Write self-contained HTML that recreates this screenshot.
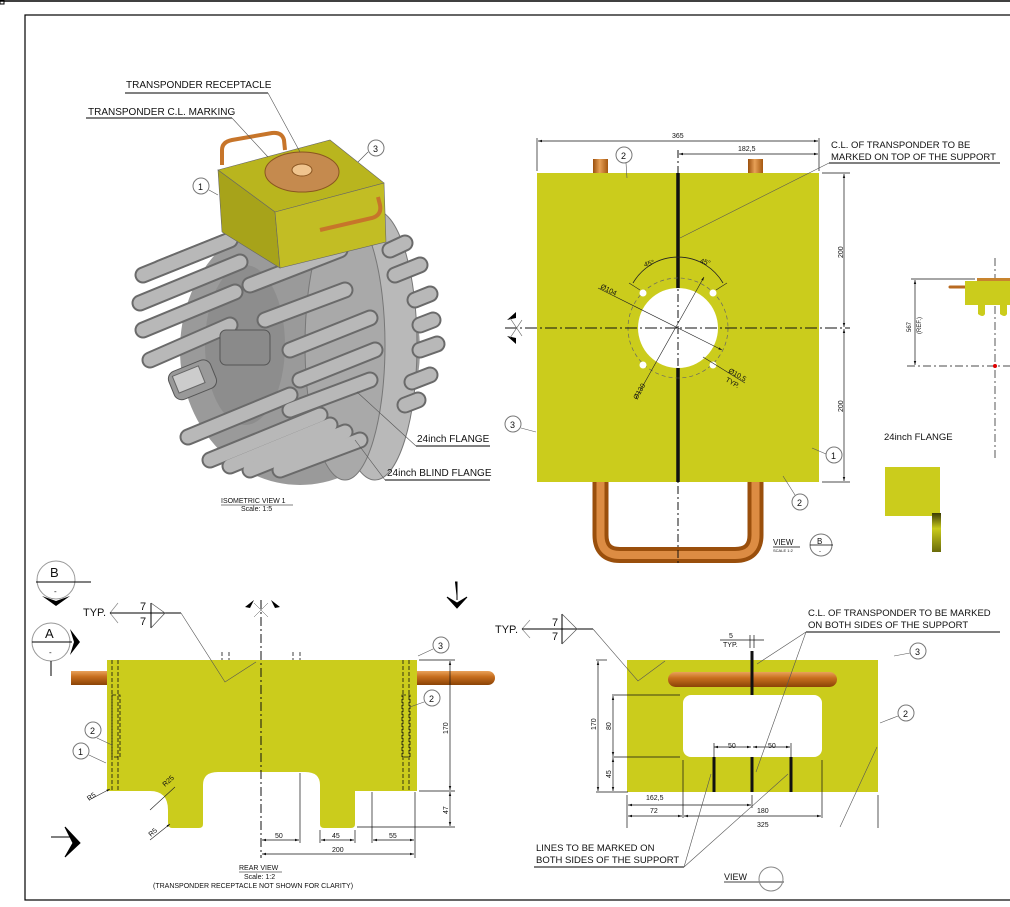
<!DOCTYPE html>
<html><head><meta charset="utf-8"><style>
html,body{margin:0;padding:0;background:#fff;}
svg{display:block;}
text{font-family:"Liberation Sans",sans-serif;fill:#111;}
</style></head><body>
<svg width="1010" height="907" viewBox="0 0 1010 907" xmlns="http://www.w3.org/2000/svg">
<defs>
<linearGradient id="cu" x1="0" y1="0" x2="0" y2="1"><stop offset="0" stop-color="#e9a25a"/><stop offset="0.4" stop-color="#c86f1e"/><stop offset="1" stop-color="#8a4306"/></linearGradient>
<linearGradient id="cuv" x1="0" y1="0" x2="1" y2="0"><stop offset="0" stop-color="#9a4f0c"/><stop offset="0.45" stop-color="#e7a057"/><stop offset="1" stop-color="#a5570f"/></linearGradient>
<linearGradient id="tab" x1="0" y1="0" x2="0" y2="1"><stop offset="0" stop-color="#3a3a05"/><stop offset="0.4" stop-color="#c9cb1c"/><stop offset="1" stop-color="#6a6b0a"/></linearGradient>
<marker id="ar" viewBox="0 0 10 10" refX="10" refY="5" markerWidth="6" markerHeight="6" orient="auto-start-reverse"><path d="M0,2 L10,5 L0,8z" fill="#111"/></marker>
</defs>

<line x1="0" y1="1" x2="1010" y2="1" stroke="#000" stroke-width="1.5"/>
<rect x="0" y="0" width="4" height="4" fill="none" stroke="#000"/>
<rect x="25" y="15" width="990" height="885" fill="none" stroke="#000" stroke-width="1.2"/>

<g>
<ellipse cx="300" cy="350" rx="120" ry="135" fill="#9a9a9a"/>
<ellipse cx="375" cy="345" rx="42" ry="135" fill="#b9b9b9" stroke="#777"/>
<ellipse cx="345" cy="345" rx="40" ry="135" fill="#a9a9a9" stroke="#777"/>
<ellipse cx="245" cy="345" rx="40" ry="80" fill="#8d8d8d"/>
<g stroke-linecap="round">
<g stroke="#6a6a6a" stroke-width="17">
<line x1="143" y1="275" x2="230" y2="240"/><line x1="140" y1="303" x2="240" y2="262"/><line x1="143" y1="330" x2="235" y2="292"/>
<line x1="150" y1="360" x2="230" y2="325"/><line x1="160" y1="268" x2="230" y2="240"/><line x1="188" y1="437" x2="290" y2="395"/>
<line x1="210" y1="460" x2="320" y2="415"/><line x1="230" y1="466" x2="330" y2="425"/><line x1="250" y1="470" x2="345" y2="432"/>
<line x1="280" y1="470" x2="360" y2="440"/><line x1="250" y1="285" x2="340" y2="250"/><line x1="265" y1="320" x2="345" y2="290"/>
<line x1="290" y1="350" x2="370" y2="318"/><line x1="300" y1="380" x2="375" y2="350"/><line x1="290" y1="410" x2="370" y2="380"/>
<line x1="390" y1="250" x2="405" y2="243"/><line x1="415" y1="300" x2="430" y2="294"/><line x1="420" y1="325" x2="433" y2="320"/>
<line x1="420" y1="350" x2="437" y2="344"/><line x1="412" y1="382" x2="430" y2="375"/><line x1="405" y1="405" x2="418" y2="400"/>
<line x1="395" y1="275" x2="420" y2="265"/>
</g>
<g stroke="#b8b8b8" stroke-width="13">
<line x1="143" y1="275" x2="230" y2="240"/><line x1="140" y1="303" x2="240" y2="262"/><line x1="143" y1="330" x2="235" y2="292"/>
<line x1="150" y1="360" x2="230" y2="325"/><line x1="160" y1="268" x2="230" y2="240"/><line x1="188" y1="437" x2="290" y2="395"/>
<line x1="210" y1="460" x2="320" y2="415"/><line x1="230" y1="466" x2="330" y2="425"/><line x1="250" y1="470" x2="345" y2="432"/>
<line x1="280" y1="470" x2="360" y2="440"/><line x1="250" y1="285" x2="340" y2="250"/><line x1="265" y1="320" x2="345" y2="290"/>
<line x1="290" y1="350" x2="370" y2="318"/><line x1="300" y1="380" x2="375" y2="350"/><line x1="290" y1="410" x2="370" y2="380"/>
<line x1="390" y1="250" x2="405" y2="243"/><line x1="415" y1="300" x2="430" y2="294"/><line x1="420" y1="325" x2="433" y2="320"/>
<line x1="420" y1="350" x2="437" y2="344"/><line x1="412" y1="382" x2="430" y2="375"/><line x1="405" y1="405" x2="418" y2="400"/>
<line x1="395" y1="275" x2="420" y2="265"/>
</g>
</g>
<rect x="170" y="365" width="45" height="30" rx="8" fill="#999" stroke="#555" transform="rotate(-22 192 380)"/>
<rect x="175" y="370" width="28" height="18" fill="#ccc" stroke="#666" transform="rotate(-22 190 380)"/>
<rect x="220" y="330" width="50" height="35" rx="6" fill="#8a8a8a" stroke="#555"/>
<polygon points="218,170 330,140 384,183 275,212" fill="#b9b51e" stroke="#666" stroke-width="0.6"/>
<polygon points="218,170 275,212 280,268 222,232" fill="#a7a31a" stroke="#666" stroke-width="0.6"/>
<polygon points="275,212 384,183 386,242 280,268" fill="#c2bd24" stroke="#666" stroke-width="0.6"/>
<ellipse cx="302" cy="172" rx="37" ry="20" fill="#c58a4e" stroke="#8a5520"/>
<ellipse cx="302" cy="170" rx="10" ry="6" fill="#f0c48e" stroke="#8a5520"/>
<path d="M222,165 L222,150 Q222,142 232,140 L272,133 Q282,132 284,140 L285,150" fill="none" stroke="#c7752a" stroke-width="4"/>
<path d="M320,230 L372,218 Q382,215 380,205 L378,197" fill="none" stroke="#c7752a" stroke-width="4"/>
</g>
<text x="126" y="88" font-size="10">TRANSPONDER RECEPTACLE</text>
<line x1="125" y1="93" x2="268" y2="93" stroke="#000"/>
<line x1="268" y1="93" x2="300" y2="152" stroke="#555" stroke-width="0.6"/>
<text x="88" y="115" font-size="10">TRANSPONDER C.L. MARKING</text>
<line x1="86" y1="118" x2="232" y2="118" stroke="#000"/>
<line x1="232" y1="118" x2="268" y2="157" stroke="#555" stroke-width="0.6"/>
<circle cx="201" cy="186" r="8" fill="#fff" stroke="#777"/><text x="198" y="190" font-size="9">1</text>
<line x1="209" y1="190" x2="218" y2="195" stroke="#555" stroke-width="0.6"/>
<circle cx="376" cy="148" r="8" fill="#fff" stroke="#777"/><text x="373" y="152" font-size="9">3</text>
<line x1="368" y1="152" x2="358" y2="162" stroke="#555" stroke-width="0.6"/>
<text x="417" y="442" font-size="10">24inch FLANGE</text>
<line x1="416" y1="446" x2="490" y2="446" stroke="#000"/>
<line x1="416" y1="446" x2="357" y2="392" stroke="#555" stroke-width="0.6"/>
<text x="387" y="476" font-size="10">24inch BLIND FLANGE</text>
<line x1="385" y1="480" x2="490" y2="480" stroke="#000"/>
<line x1="385" y1="480" x2="355" y2="440" stroke="#555" stroke-width="0.6"/>
<text x="221" y="503" font-size="7">ISOMETRIC VIEW 1</text>
<line x1="221" y1="505" x2="293" y2="505" stroke="#000" stroke-width="0.6"/>
<text x="241" y="511" font-size="7">Scale: 1:5</text>

<rect x="593" y="159" width="15" height="16" fill="url(#cuv)"/>
<rect x="748" y="159" width="15" height="16" fill="url(#cuv)"/>
<path d="M600.5,480 L600.5,535 Q600.5,555 620,555 L735,555 Q755.5,555 755.5,535 L755.5,480" fill="none" stroke="#9a4f0c" stroke-width="16"/>
<path d="M600.5,480 L600.5,535 Q600.5,555 620,555 L735,555 Q755.5,555 755.5,535 L755.5,480" fill="none" stroke="#dc8c43" stroke-width="8"/>
<rect x="537" y="173" width="282" height="309" fill="#cbcc1c"/>
<line x1="678" y1="173" x2="678" y2="482" stroke="#111" stroke-width="3.5"/>
<circle cx="678" cy="328" r="50" fill="none" stroke="#666" stroke-width="0.7" stroke-dasharray="4 3"/>
<circle cx="678" cy="328" r="40" fill="#fff"/>
<circle cx="643" cy="293" r="3.5" fill="#fff"/><circle cx="713" cy="293" r="3.5" fill="#fff"/>
<circle cx="643" cy="365" r="3.5" fill="#fff"/><circle cx="713" cy="365" r="3.5" fill="#fff"/>
<line x1="505" y1="328" x2="850" y2="328" stroke="#111" stroke-dasharray="12 3 2 3"/>
<line x1="678" y1="150" x2="678" y2="565" stroke="#111" stroke-dasharray="8 3 2 3"/>
<path d="M516,312 L507,320 L516,318z M516,344 L507,336 L516,338z" fill="#000"/>
<line x1="510" y1="318" x2="522" y2="336" stroke="#555" stroke-width="0.6"/>
<line x1="510" y1="338" x2="522" y2="320" stroke="#555" stroke-width="0.6"/>
<path d="M633,283 A52,52 0 0 1 723,283" fill="none" stroke="#222" stroke-width="0.8"/>
<line x1="629" y1="283" x2="640" y2="290" stroke="#222" stroke-width="0.6"/><line x1="727" y1="283" x2="716" y2="290" stroke="#222" stroke-width="0.6"/>
<text x="644" y="266" font-size="7" transform="rotate(-15 648 264)">45°</text>
<text x="700" y="264" font-size="7" transform="rotate(15 704 262)">45°</text>
<line x1="598" y1="288" x2="722" y2="350" stroke="#222" stroke-width="0.6" marker-end="url(#ar)"/>
<text x="600" y="288" font-size="7" transform="rotate(27 600 288)">Ø104</text>
<line x1="636" y1="398" x2="704" y2="277" stroke="#222" stroke-width="0.6" marker-end="url(#ar)"/>
<text x="637" y="400" font-size="7" transform="rotate(-60 637 400)">Ø130</text>
<line x1="703" y1="357" x2="745" y2="383" stroke="#222" stroke-width="0.6"/>
<text x="728" y="372" font-size="7" transform="rotate(30 728 372)">Ø10,5</text>
<text x="725" y="381" font-size="7" transform="rotate(30 725 381)">TYP.</text>
<line x1="537" y1="171" x2="537" y2="138" stroke="#111" stroke-width="0.7"/>
<line x1="819" y1="171" x2="819" y2="138" stroke="#111" stroke-width="0.7"/>
<line x1="538" y1="141" x2="818" y2="141" stroke="#111" stroke-width="0.7" marker-start="url(#ar)" marker-end="url(#ar)"/>
<text x="672" y="138" font-size="7">365</text>
<line x1="679" y1="154" x2="818" y2="154" stroke="#111" stroke-width="0.7" marker-start="url(#ar)" marker-end="url(#ar)"/>
<text x="738" y="151" font-size="7">182,5</text>
<line x1="822" y1="173" x2="850" y2="173" stroke="#111" stroke-width="0.7"/>
<line x1="822" y1="482" x2="850" y2="482" stroke="#111" stroke-width="0.7"/>
<line x1="844" y1="174" x2="844" y2="327" stroke="#111" stroke-width="0.7" marker-start="url(#ar)" marker-end="url(#ar)"/>
<line x1="844" y1="329" x2="844" y2="481" stroke="#111" stroke-width="0.7" marker-start="url(#ar)" marker-end="url(#ar)"/>
<text x="843" y="258" font-size="7" transform="rotate(-90 843 258)">200</text>
<text x="843" y="412" font-size="7" transform="rotate(-90 843 412)">200</text>
<text x="831" y="148" font-size="9.5">C.L. OF TRANSPONDER TO BE</text>
<text x="831" y="160" font-size="9.5">MARKED ON TOP OF THE SUPPORT</text>
<line x1="829" y1="163" x2="1000" y2="163" stroke="#000"/>
<line x1="829" y1="163" x2="680" y2="238" stroke="#555" stroke-width="0.6"/>
<circle cx="624" cy="155" r="8" fill="#fff" stroke="#777"/><text x="621" y="159" font-size="9">2</text>
<line x1="626" y1="163" x2="627" y2="178" stroke="#555" stroke-width="0.6"/>
<circle cx="513" cy="424" r="8" fill="#fff" stroke="#777"/><text x="510" y="428" font-size="9">3</text>
<line x1="521" y1="428" x2="536" y2="432" stroke="#555" stroke-width="0.6"/>
<circle cx="834" cy="455" r="8" fill="#fff" stroke="#777"/><text x="831" y="459" font-size="9">1</text>
<line x1="826" y1="454" x2="812" y2="448" stroke="#555" stroke-width="0.6"/>
<circle cx="800" cy="502" r="8" fill="#fff" stroke="#777"/><text x="797" y="506" font-size="9">2</text>
<line x1="795" y1="495" x2="783" y2="476" stroke="#555" stroke-width="0.6"/>
<text x="773" y="545" font-size="8">VIEW</text>
<line x1="773" y1="547" x2="800" y2="547" stroke="#000" stroke-width="0.7"/>
<text x="773" y="552" font-size="4">SCALE 1:2</text>
<circle cx="821" cy="545" r="11" fill="#fff" stroke="#777"/>
<line x1="810" y1="545" x2="833" y2="545" stroke="#000" stroke-width="0.7"/>
<text x="817" y="544" font-size="8">B</text><text x="819" y="553" font-size="6">-</text>

<line x1="995" y1="258" x2="995" y2="458" stroke="#111" stroke-width="0.7" stroke-dasharray="8 3 2 3"/>
<line x1="907" y1="366" x2="1010" y2="366" stroke="#111" stroke-width="0.7" stroke-dasharray="8 3 2 3"/>
<circle cx="995" cy="366" r="2" fill="#d00"/>
<line x1="911" y1="279" x2="975" y2="279" stroke="#111" stroke-width="0.8"/>
<line x1="915" y1="280" x2="915" y2="365" stroke="#111" stroke-width="0.7" marker-start="url(#ar)" marker-end="url(#ar)"/>
<text x="911" y="332" font-size="6" transform="rotate(-90 911 332)">567</text>
<text x="921" y="334" font-size="6" transform="rotate(-90 921 334)">(REF.)</text>
<rect x="977" y="278" width="33" height="3" fill="#c8842e"/>
<line x1="950" y1="287" x2="966" y2="287" stroke="#b86a20" stroke-width="3" stroke-linecap="round"/>
<path d="M965,281 L1010,281 L1010,305 L1007,305 L1007,314 Q1005,318 1000,314 L1000,305 L985,305 L985,314 Q983,318 978,314 L978,305 L965,305z" fill="#cbcc1c"/>
<text x="884" y="440" font-size="9.5">24inch FLANGE</text>
<rect x="885" y="467" width="55" height="49" fill="#cbcc1c"/>
<rect x="932" y="513" width="9" height="39" fill="url(#tab)"/>

<rect x="71" y="671" width="40" height="14" fill="url(#cu)"/>
<path d="M413,671 L488,671 A7,7 0 0 1 488,685 L413,685z" fill="url(#cu)"/>
<path d="M107,660 L417,660 L417,791 L355,791 L355,824 Q355,828 351,828 L324,828 Q320,828 320,824 L320,785 Q320,772 305,772 L218,772 Q203,772 203,785 L203,824 Q203,828 199,828 L172,828 Q168,828 168,822 L168,810 Q168,791 150,791 L107,791z" fill="#cbcc1c"/>
<g stroke="#111" stroke-width="0.8" stroke-dasharray="4 2" fill="none">
<line x1="112" y1="660" x2="112" y2="791"/><line x1="118" y1="660" x2="118" y2="791"/>
<line x1="403" y1="660" x2="403" y2="791"/><line x1="409" y1="660" x2="409" y2="791"/>
<rect x="112" y="695" width="8" height="62"/><rect x="402" y="695" width="8" height="62"/>
<line x1="222" y1="652" x2="222" y2="660"/><line x1="229" y1="652" x2="229" y2="660"/>
<line x1="293" y1="652" x2="293" y2="660"/><line x1="300" y1="652" x2="300" y2="660"/>
</g>
<line x1="261" y1="600" x2="261" y2="858" stroke="#111" stroke-width="1" stroke-dasharray="9 3 2 3"/>
<path d="M245,607 L254,600 L250,608z M280,607 L271,600 L275,608z" fill="#000"/>
<line x1="254" y1="603" x2="268" y2="617" stroke="#555" stroke-width="0.5"/><line x1="268" y1="603" x2="254" y2="617" stroke="#555" stroke-width="0.5"/>
<circle cx="56" cy="580" r="19" fill="#fff" stroke="#999"/>
<line x1="36" y1="582" x2="91" y2="582" stroke="#000"/>
<text x="50" y="577" font-size="13">B</text><text x="54" y="594" font-size="8">-</text>
<path d="M42,596 L56,606 L70,596 L56,601z" fill="#000"/>
<circle cx="51" cy="642" r="19" fill="#fff" stroke="#999"/>
<line x1="32" y1="642" x2="72" y2="642" stroke="#000"/>
<text x="45" y="638" font-size="13">A</text><text x="49" y="655" font-size="8">-</text>
<path d="M70,629 L80,642 L70,655 L74,642z" fill="#000"/>
<line x1="51" y1="661" x2="51" y2="676" stroke="#000"/>
<path d="M51,837 L72,837 M65,827 L80,843 L65,857 L73,843z" fill="#000" stroke="#000"/>
<path d="M455,582 L457,582 L457,600 M447,597 L457,608 L467,597 L457,603z" fill="#000" stroke="#000"/>
<text x="83" y="616" font-size="11">TYP.</text>
<polyline points="118,603 110,613 118,623" fill="none" stroke="#888" stroke-width="0.7"/>
<line x1="110" y1="613" x2="181" y2="613" stroke="#000"/>
<line x1="151" y1="603" x2="151" y2="628" stroke="#000"/>
<polyline points="151,603 165,613 151,628" fill="none" stroke="#555" stroke-width="0.7"/>
<text x="140" y="610" font-size="11">7</text><text x="140" y="625" font-size="11">7</text>
<polyline points="181,613 225,682 256,662" fill="none" stroke="#555" stroke-width="0.6"/>
<circle cx="441" cy="645" r="8" fill="#fff" stroke="#777"/><text x="438" y="649" font-size="9">3</text>
<line x1="433" y1="649" x2="418" y2="656" stroke="#555" stroke-width="0.6"/>
<circle cx="432" cy="698" r="8" fill="#fff" stroke="#777"/><text x="429" y="702" font-size="9">2</text>
<line x1="424" y1="702" x2="410" y2="707" stroke="#555" stroke-width="0.6"/>
<circle cx="93" cy="730" r="8" fill="#fff" stroke="#777"/><text x="90" y="734" font-size="9">2</text>
<line x1="97" y1="738" x2="112" y2="745" stroke="#555" stroke-width="0.6"/>
<circle cx="81" cy="751" r="8" fill="#fff" stroke="#777"/><text x="78" y="755" font-size="9">1</text>
<line x1="89" y1="755" x2="106" y2="763" stroke="#555" stroke-width="0.6"/>
<line x1="89" y1="800" x2="110" y2="789" stroke="#222" stroke-width="0.6" marker-end="url(#ar)"/>
<text x="89" y="801" font-size="7" transform="rotate(-35 89 801)">R5</text>
<line x1="150" y1="810" x2="175" y2="787" stroke="#222" stroke-width="0.6"/>
<text x="165" y="787" font-size="7" transform="rotate(-42 165 787)">R25</text>
<line x1="150" y1="840" x2="170" y2="824" stroke="#222" stroke-width="0.6" marker-end="url(#ar)"/>
<text x="151" y="837" font-size="7" transform="rotate(-42 151 837)">R5</text>
<g stroke="#111" stroke-width="0.7">
<line x1="419" y1="660" x2="455" y2="660"/><line x1="419" y1="791" x2="455" y2="791"/><line x1="357" y1="827" x2="455" y2="827"/>
<line x1="450" y1="661" x2="450" y2="790" marker-start="url(#ar)" marker-end="url(#ar)"/>
<line x1="450" y1="792" x2="450" y2="826" marker-start="url(#ar)" marker-end="url(#ar)"/>
<line x1="300" y1="773" x2="300" y2="843"/><line x1="320" y1="830" x2="320" y2="843"/><line x1="355" y1="830" x2="355" y2="843"/>
<line x1="372" y1="792" x2="372" y2="843"/><line x1="415" y1="792" x2="415" y2="858"/>
<line x1="262" y1="840" x2="299" y2="840" marker-start="url(#ar)" marker-end="url(#ar)"/>
<line x1="321" y1="840" x2="354" y2="840" marker-start="url(#ar)" marker-end="url(#ar)"/>
<line x1="373" y1="840" x2="414" y2="840" marker-start="url(#ar)" marker-end="url(#ar)"/>
<line x1="262" y1="854" x2="414" y2="854" marker-start="url(#ar)" marker-end="url(#ar)"/>
</g>
<text x="448" y="734" font-size="7" transform="rotate(-90 448 734)">170</text>
<text x="448" y="814" font-size="7" transform="rotate(-90 448 814)">47</text>
<text x="275" y="838" font-size="7">50</text><text x="332" y="838" font-size="7">45</text>
<text x="389" y="838" font-size="7">55</text><text x="332" y="852" font-size="7">200</text>
<text x="239" y="870" font-size="7">REAR VIEW</text>
<line x1="239" y1="872" x2="282" y2="872" stroke="#000" stroke-width="0.6"/>
<text x="244" y="879" font-size="7">Scale: 1:2</text>
<text x="153" y="888" font-size="7">(TRANSPONDER RECEPTACLE NOT SHOWN FOR CLARITY)</text>

<text x="495" y="633" font-size="11">TYP.</text>
<polyline points="530,620 522,629 530,638" fill="none" stroke="#888" stroke-width="0.7"/>
<line x1="522" y1="629" x2="593" y2="629" stroke="#000"/>
<line x1="562" y1="614" x2="562" y2="644" stroke="#000"/>
<polyline points="562,614 577,629 562,644" fill="none" stroke="#555" stroke-width="0.7"/>
<text x="552" y="626" font-size="11">7</text><text x="552" y="640" font-size="11">7</text>
<rect x="627" y="660" width="251" height="132" fill="#cbcc1c"/>
<rect x="683" y="695" width="139" height="62" rx="8" fill="#fff"/>
<rect x="668" y="672" width="169" height="15" rx="7.5" fill="url(#cu)"/>
<g stroke="#111" stroke-width="3">
<line x1="752" y1="651" x2="752" y2="695"/><line x1="714" y1="757" x2="714" y2="792"/>
<line x1="752" y1="757" x2="752" y2="792"/><line x1="791" y1="757" x2="791" y2="792"/>
</g>
<polyline points="593,629 638,681 665,661" fill="none" stroke="#555" stroke-width="0.6"/>
<g stroke="#111" stroke-width="0.7">
<line x1="596" y1="660" x2="607" y2="660"/><line x1="596" y1="792" x2="628" y2="792"/>
<line x1="612" y1="695" x2="680" y2="695"/><line x1="612" y1="757" x2="680" y2="757"/>
<line x1="598" y1="661" x2="598" y2="791" marker-start="url(#ar)" marker-end="url(#ar)"/>
<line x1="613" y1="696" x2="613" y2="756" marker-start="url(#ar)" marker-end="url(#ar)"/>
<line x1="613" y1="758" x2="613" y2="791" marker-start="url(#ar)" marker-end="url(#ar)"/>
<line x1="627" y1="795" x2="627" y2="828"/><line x1="683" y1="760" x2="683" y2="818"/>
<line x1="822" y1="760" x2="822" y2="818"/><line x1="878" y1="795" x2="878" y2="828"/>
<line x1="752" y1="795" x2="752" y2="808"/>
<line x1="628" y1="805" x2="751" y2="805" marker-start="url(#ar)" marker-end="url(#ar)"/>
<line x1="628" y1="816" x2="682" y2="816" marker-start="url(#ar)" marker-end="url(#ar)"/>
<line x1="684" y1="816" x2="821" y2="816" marker-start="url(#ar)" marker-end="url(#ar)"/>
<line x1="714" y1="747" x2="751" y2="747" marker-start="url(#ar)" marker-end="url(#ar)"/>
<line x1="753" y1="747" x2="790" y2="747" marker-start="url(#ar)" marker-end="url(#ar)"/>
<line x1="714" y1="743" x2="714" y2="757"/><line x1="791" y1="743" x2="791" y2="757"/>
<line x1="720" y1="640" x2="764" y2="640"/><line x1="750" y1="635" x2="750" y2="648"/><line x1="754" y1="635" x2="754" y2="648"/>
</g>
<text x="596" y="730" font-size="7" transform="rotate(-90 596 730)">170</text>
<text x="611" y="730" font-size="7" transform="rotate(-90 611 730)">80</text>
<text x="611" y="778" font-size="7" transform="rotate(-90 611 778)">45</text>
<text x="646" y="800" font-size="7">162,5</text><text x="650" y="813" font-size="7">72</text>
<text x="757" y="813" font-size="7">180</text><text x="757" y="827" font-size="7">325</text>
<text x="728" y="748" font-size="7">50</text><text x="768" y="748" font-size="7">50</text>
<text x="729" y="638" font-size="7">5</text><text x="723" y="647" font-size="7">TYP.</text>
<text x="808" y="616" font-size="9.5">C.L. OF TRANSPONDER TO BE MARKED</text>
<text x="808" y="628" font-size="9.5">ON BOTH SIDES OF THE SUPPORT</text>
<line x1="806" y1="632" x2="1000" y2="632" stroke="#000"/>
<line x1="806" y1="632" x2="757" y2="664" stroke="#555" stroke-width="0.6"/>
<line x1="806" y1="632" x2="756" y2="772" stroke="#555" stroke-width="0.6"/>
<circle cx="918" cy="651" r="8" fill="#fff" stroke="#777"/><text x="915" y="655" font-size="9">3</text>
<line x1="910" y1="653" x2="894" y2="656" stroke="#555" stroke-width="0.6"/>
<circle cx="906" cy="713" r="8" fill="#fff" stroke="#777"/><text x="903" y="717" font-size="9">2</text>
<line x1="898" y1="716" x2="880" y2="723" stroke="#555" stroke-width="0.6"/>
<line x1="840" y1="827" x2="877" y2="747" stroke="#555" stroke-width="0.6"/>
<text x="536" y="851" font-size="9.5">LINES TO BE MARKED ON</text>
<text x="536" y="863" font-size="9.5">BOTH SIDES OF THE SUPPORT</text>
<line x1="534" y1="867" x2="684" y2="867" stroke="#000"/>
<line x1="684" y1="867" x2="711" y2="774" stroke="#555" stroke-width="0.6"/>
<line x1="684" y1="867" x2="788" y2="774" stroke="#555" stroke-width="0.6"/>
<text x="724" y="880" font-size="9">VIEW</text>
<line x1="724" y1="882" x2="784" y2="882" stroke="#000" stroke-width="0.7"/>
<circle cx="771" cy="879" r="12" fill="none" stroke="#888"/>
</svg>
</body></html>
